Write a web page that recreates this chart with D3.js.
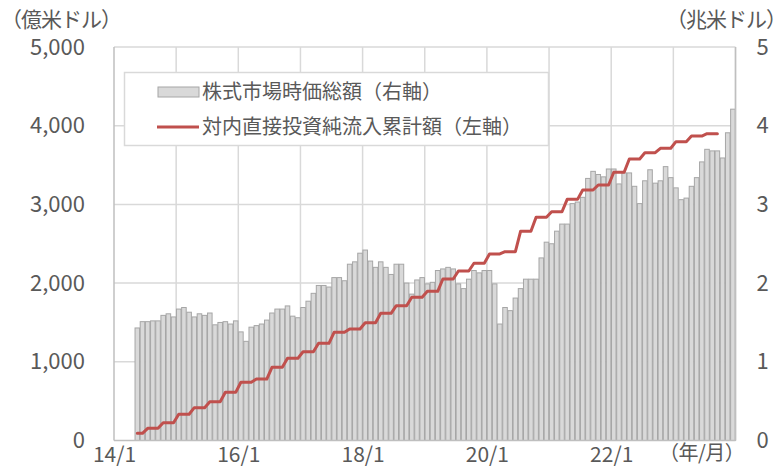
<!DOCTYPE html>
<html>
<head>
<meta charset="utf-8">
<script src="https://cdn.jsdelivr.net/npm/d3@7"></script>
<style>
  html, body { margin: 0; padding: 0; background: #fff; }
  svg { display: block; }
  text { font-family: "Noto Sans CJK JP", "Noto Sans", sans-serif; fill: #595959; }
</style>
</head>
<body>
<svg id="chart" width="779" height="467"></svg>
<script>
// ---- DATA ----
const startYear = 14, endYear = 23;
const xTickLabels = ["14/1", "16/1", "18/1", "20/1", "22/1"];
const leftTicks = [0, 1000, 2000, 3000, 4000, 5000];
const rightTicks = [0, 1, 2, 3, 4, 5];
const barStart = "14/5";
const lineStart = "14/5";

// 株式市場時価総額 (兆米ドル), monthly from 14/5 to 23/12
const marketCap = [
  1.43, 1.51, 1.51, 1.52, 1.52, 1.59, 1.61, 1.57,
  1.67, 1.69, 1.63, 1.57, 1.61, 1.59, 1.62, 1.47, 1.50, 1.51, 1.48, 1.52,
  1.38, 1.26, 1.44, 1.46, 1.48, 1.53, 1.62, 1.67, 1.67, 1.71, 1.58, 1.56,
  1.69, 1.77, 1.87, 1.97, 1.97, 1.95, 2.07, 2.07, 2.03, 2.24, 2.27, 2.38,
  2.42, 2.28, 2.20, 2.27, 2.20, 2.11, 2.24, 2.24, 2.00, 1.86, 2.04, 2.07,
  1.99, 2.01, 2.16, 2.18, 2.20, 2.18, 1.99, 1.93, 2.05, 2.16, 2.13, 2.16,
  2.16, 1.99, 1.48, 1.69, 1.65, 1.81, 1.93, 2.05, 2.05, 2.05, 2.32, 2.52,
  2.50, 2.66, 2.75, 2.75, 3.01, 3.03, 3.09, 3.33, 3.42, 3.38, 3.35, 3.45,
  3.45, 3.26, 3.40, 3.40, 3.23, 3.01, 3.30, 3.44, 3.27, 3.30, 3.48, 3.34,
  3.21, 3.06, 3.08, 3.23, 3.34, 3.54, 3.70, 3.68, 3.68, 3.59, 3.91, 4.21
];

// 対内直接投資純流入累計額 (億米ドル), monthly from 14/5 to 23/9 (quarterly steps)
const cumulativeFDI = [
  91, 91,
  155, 155, 155, 226, 226, 226,
  333, 333, 333, 417, 417, 417, 493, 493, 493, 612, 612, 612,
  740, 740, 740, 781, 781, 781, 930, 930, 930, 1044, 1044, 1044,
  1128, 1128, 1128, 1235, 1235, 1235, 1375, 1375, 1375, 1417, 1417, 1417,
  1497, 1497, 1497, 1616, 1616, 1616, 1713, 1713, 1713, 1820, 1820, 1820,
  1895, 1895, 1895, 2052, 2052, 2052, 2154, 2154, 2154, 2252, 2252, 2252,
  2370, 2370, 2370, 2399, 2399, 2399, 2658, 2658, 2658, 2836, 2836, 2836,
  2907, 2907, 2907, 3064, 3064, 3064, 3183, 3183, 3183, 3247, 3247, 3247,
  3408, 3408, 3408, 3577, 3577, 3577, 3657, 3657, 3657, 3713, 3713, 3713,
  3797, 3797, 3797, 3869, 3869, 3869, 3898, 3898, 3898
];

const legendLabels = ["株式市場時価総額（右軸）", "対内直接投資純流入累計額（左軸）"];

// ---- BUILD ----
const months = [];
for (let y = startYear; y <= endYear; y++) for (let m = 1; m <= 12; m++) months.push(y + "/" + m);
const edges = months.concat([(endYear + 1) + "/1"]);

const plot = { left: 114, right: 735.5, top: 47, bottom: 440.5 };
const svg = d3.select("#chart");

const pad = 0.12;
const x = d3.scaleBand().domain(months).range([plot.left, plot.right]).paddingInner(pad).paddingOuter(pad / 2);
const xEdge = d3.scalePoint().domain(edges).range([plot.left, plot.right]);
const yL = d3.scaleLinear().domain([0, 5000]).range([plot.bottom, plot.top]);
const yR = d3.scaleLinear().domain([0, 5]).range([plot.bottom, plot.top]);

const bi = months.indexOf(barStart);
const barData = marketCap.map((v, i) => ({ m: months[bi + i], v }));
const li = months.indexOf(lineStart);
const lineData = cumulativeFDI.map((v, i) => ({ m: months[li + i], v }));

// gridlines
const g = svg.append("g");
g.selectAll("line.h").data(leftTicks.filter(d => d > 0)).join("line")
  .attr("x1", plot.left).attr("x2", plot.right)
  .attr("y1", d => yL(d)).attr("y2", d => yL(d))
  .attr("stroke", "#d9d9d9").attr("stroke-width", 1.5);
g.selectAll("line.v").data(edges.filter(d => d.endsWith("/1") && d !== edges[0])).join("line")
  .attr("x1", d => xEdge(d)).attr("x2", d => xEdge(d))
  .attr("y1", plot.top).attr("y2", plot.bottom)
  .attr("stroke", "#d9d9d9").attr("stroke-width", 1.5);

// bars
svg.append("g").selectAll("rect").data(barData).join("rect")
  .attr("x", d => x(d.m)).attr("width", x.bandwidth())
  .attr("y", d => yR(d.v)).attr("height", d => yR(0) - yR(d.v))
  .attr("fill", "#d9d9d9").attr("stroke", "#a6a6a6").attr("stroke-width", 1);

// axis lines
svg.append("line").attr("x1", plot.left).attr("x2", plot.left).attr("y1", plot.top).attr("y2", plot.bottom)
  .attr("stroke", "#bfbfbf").attr("stroke-width", 1.5);
svg.append("line").attr("x1", plot.left).attr("x2", plot.right).attr("y1", plot.bottom).attr("y2", plot.bottom)
  .attr("stroke", "#bfbfbf").attr("stroke-width", 1.5);
svg.append("line").attr("x1", plot.right).attr("x2", plot.right).attr("y1", plot.top).attr("y2", plot.bottom)
  .attr("stroke", "#bfbfbf").attr("stroke-width", 1.5);

// line
const line = d3.line().x(d => x(d.m) + x.bandwidth() / 2).y(d => yL(d.v));
svg.append("path").datum(lineData).attr("d", line)
  .attr("fill", "none").attr("stroke", "#c0504d").attr("stroke-width", 3)
  .attr("stroke-linejoin", "round").attr("stroke-linecap", "round");

// axes
const axL = svg.append("g").attr("transform", `translate(${plot.left},0)`)
  .call(d3.axisLeft(yL).tickValues(leftTicks).tickFormat(d3.format(",")).tickSize(0).tickPadding(29));
axL.select(".domain").remove();
axL.selectAll("text").attr("font-size", 22).style("fill", "#595959");

const axR = svg.append("g").attr("transform", `translate(${plot.right},0)`)
  .call(d3.axisRight(yR).tickValues(rightTicks).tickFormat(d3.format("d")).tickSize(0).tickPadding(21));
axR.select(".domain").remove();
axR.selectAll("text").attr("font-size", 22).style("fill", "#595959");

const axB = svg.append("g").attr("transform", `translate(0,${plot.bottom})`)
  .call(d3.axisBottom(xEdge).tickValues(xTickLabels).tickSize(0).tickPadding(7));
axB.select(".domain").remove();
axB.selectAll("text").attr("font-size", 21).style("fill", "#595959");

// axis titles
svg.append("text").attr("x", 1).attr("y", 27).attr("font-size", 21).attr("letter-spacing", -1).text("（億米ドル）");
svg.append("text").attr("x", 666).attr("y", 27).attr("font-size", 21).attr("letter-spacing", -1).text("（兆米ドル）");
svg.append("text").attr("x", 659).attr("y", 460).attr("font-size", 20).attr("letter-spacing", -0.5).text("（年/月）");

// legend
const lg = svg.append("g");
lg.append("rect").attr("x", 124.5).attr("y", 72.5).attr("width", 424).attr("height", 73)
  .attr("fill", "#fff").attr("stroke", "#d9d9d9").attr("stroke-width", 1.5);
lg.append("rect").attr("x", 158).attr("y", 87).attr("width", 41).attr("height", 10)
  .attr("fill", "#d9d9d9").attr("stroke", "#a6a6a6").attr("stroke-width", 1);
lg.append("line").attr("x1", 157).attr("x2", 199).attr("y1", 127).attr("y2", 127)
  .attr("stroke", "#c0504d").attr("stroke-width", 3);
lg.append("text").attr("x", 202).attr("y", 92).attr("dy", "0.36em").attr("font-size", 20).text(legendLabels[0]);
lg.append("text").attr("x", 202).attr("y", 127).attr("dy", "0.36em").attr("font-size", 20).text(legendLabels[1]);
</script>
</body>
</html>
